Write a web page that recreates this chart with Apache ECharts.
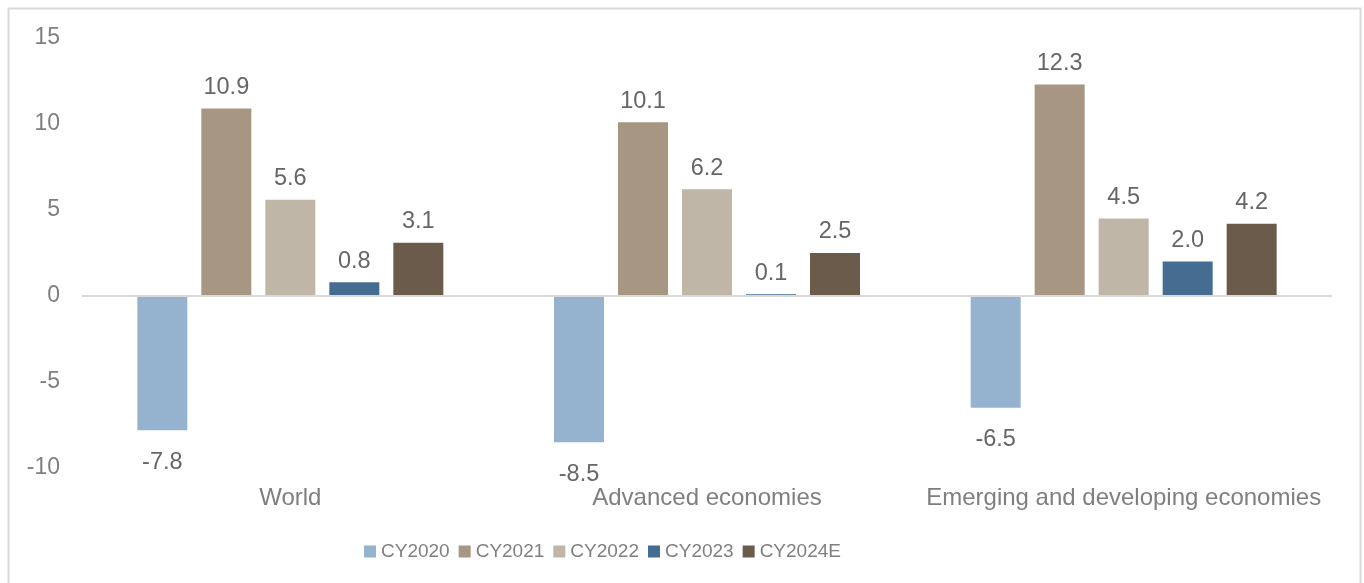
<!DOCTYPE html>
<html>
<head>
<meta charset="utf-8">
<script src="https://cdn.jsdelivr.net/npm/echarts@6/dist/echarts.min.js"></script>
<style>
html,body{margin:0;padding:0;background:#fff;}
#chart{width:1364px;height:583px;}
</style>
</head>
<body>
<div id="chart"></div>
<script>
const categories = ['World', 'Advanced economies', 'Emerging and developing economies'];
const seriesNames = ['CY2020', 'CY2021', 'CY2022', 'CY2023', 'CY2024E'];
const cy2020 = [-7.8, -8.5, -6.5];
const cy2021 = [10.9, 10.1, 12.3];
const cy2022 = [5.6, 6.2, 4.5];
const cy2023 = [0.8, 0.1, 2.0];
const cy2024e = [3.1, 2.5, 4.2];
const yTicks = {min: -10, max: 15, interval: 5};

const colors = ['#95B3CF', '#A69682', '#C0B6A8', '#456C91', '#6A5B4A'];
const allValues = [cy2020, cy2021, cy2022, cy2023, cy2024e];
const textColor = '#7f7f7f';
const font = 'Liberation Sans, Arial, sans-serif';

const chart = echarts.init(document.getElementById('chart'));
chart.setOption({
  animation: false,
  textStyle: {fontFamily: font},
  graphic: [{
    type: 'rect',
    shape: {x: 8.5, y: 8.5, width: 1352, height: 620},
    style: {fill: 'none', stroke: '#d9d9d9', lineWidth: 2},
    silent: true
  }],
  grid: {left: 82, right: 32, top: 38, bottom: 115},
  legend: {
    bottom: 17,
    left: 359,
    icon: 'rect',
    itemWidth: 12,
    itemHeight: 12,
    itemGap: 9,
    textStyle: {color: textColor, fontSize: 19, fontFamily: font},
    data: seriesNames
  },
  xAxis: {
    type: 'category',
    data: categories,
    axisLine: {show: false},
    axisTick: {show: false},
    axisLabel: {color: textColor, fontSize: 24, margin: 18, interval: 0, hideOverlap: false, fontFamily: font}
  },
  yAxis: {
    type: 'value',
    min: yTicks.min,
    max: yTicks.max,
    interval: yTicks.interval,
    splitLine: {show: false},
    axisLine: {show: false},
    axisTick: {show: false},
    axisLabel: {color: textColor, fontSize: 23, margin: 22, fontFamily: font}
  },
  series: seriesNames.map((name, i) => ({
    name: name,
    type: 'bar',
    barWidth: 50,
    barGap: '28%',
    itemStyle: {color: colors[i]},
    data: allValues[i].map(v => ({
      value: v,
      label: v < 0 ? {position: 'bottom', distance: 20} : {position: 'top', distance: 9}
    })),
    label: {
      show: true,
      color: '#666666',
      fontSize: 23.5,
      fontFamily: font,
      formatter: p => p.value.toFixed(1)
    },
    markLine: i === 0 ? {
      silent: true,
      symbol: 'none',
      label: {show: false},
      lineStyle: {color: '#d9d9d9', width: 2, type: 'solid'},
      data: [{yAxis: 0}]
    } : undefined,
    z: 3
  }))
});
</script>
</body>
</html>
